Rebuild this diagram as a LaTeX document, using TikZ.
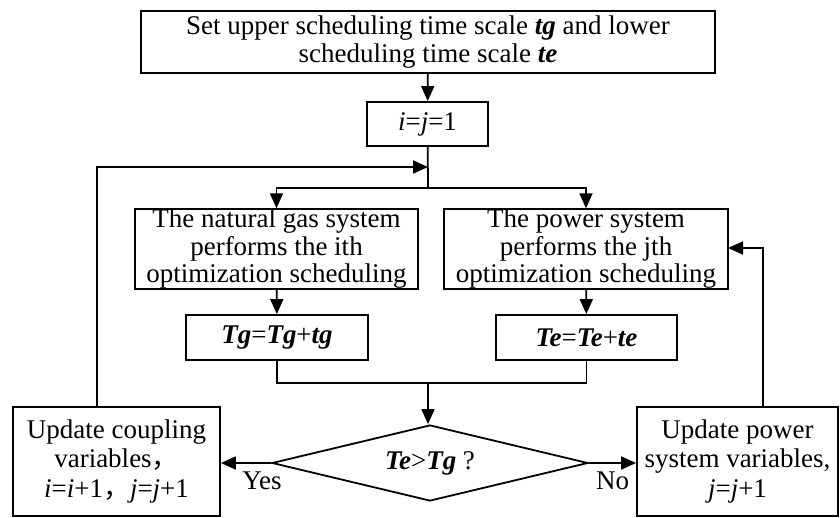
\documentclass[tikz,border=0pt]{standalone}
\usepackage{fontspec}
\setmainfont{Liberation Serif}
\newfontfamily\cjkfont{Noto Sans CJK SC}
\usetikzlibrary{arrows.meta,shapes.geometric}

\newcommand{\bi}[1]{\textbf{\textit{#1}}}
\newcommand{\fwc}{{\cjkfont ，}}

\begin{document}
\begin{tikzpicture}[x=1pt,y=-1pt,
  box/.style={draw,line width=1.8pt,inner sep=0pt,align=center,
    font=\fontsize{27}{27.5}\selectfont},
  flow/.style={line width=1.8pt,-{Triangle[length=15pt,width=13pt]}},
  link/.style={line width=1.8pt},
  lbl/.style={inner sep=0pt,anchor=base,font=\fontsize{27}{27.5}\selectfont}]
\useasboundingbox (0,0) rectangle (840,518);

% process boxes
\node[box, line width=2.3pt, minimum width=574pt, minimum height=62pt] (set) at (428,42)
  {Set upper scheduling time scale \bi{tg} and lower\\scheduling time scale \bi{te}};
\node[box, minimum width=121pt, minimum height=44pt] (init) at (427.5,124)
  {\textit{i}=\textit{j}=1};
\node[box, minimum width=283pt, minimum height=76pt] (gas) at (276.5,249)
  {The natural gas system\\performs the ith\\optimization scheduling};
\node[box, minimum width=284pt, minimum height=76pt] (power) at (586,249)
  {The power system\\performs the jth\\optimization scheduling};
\node[box, minimum width=182pt, minimum height=45pt] (tg) at (277,337.5)
  {\bi{Tg}=\bi{Tg}+\bi{tg}};
\node[box, minimum width=181pt, minimum height=45pt] (te) at (586.5,337.5)
  {\bi{Te}=\bi{Te}+\bi{te}};
\node[box, diamond, aspect=4.16, minimum width=316pt, minimum height=76pt] (dec) at (430,463)
  {\bi{Te}>\bi{Tg} ?};
\node[box, font=\fontsize{27}{29.5}\selectfont, minimum width=207pt, minimum height=109pt] (upd) at (116.5,461.5)
  {Update coupling\\variables\fwc\\\textit{i}=\textit{i}+1\fwc\textit{j}=\textit{j}+1};
\node[box, font=\fontsize{27}{29.5}\selectfont, minimum width=201pt, minimum height=109pt] (pupd) at (737.5,461.5)
  {Update power\\system variables,\\\textit{j}=\textit{j}+1};

% branch labels
\node[lbl] (yes) at (262,489) {Yes};
\node[lbl] (no) at (612.5,489) {No};

% junction points of the connectors
\coordinate (split) at (428,188);
\coordinate (loopin) at (428,167);
\coordinate (merge) at (428,383);
\coordinate (lup) at (97,407);
\coordinate (rup) at (763,407);
\coordinate (pin) at (728,248);

% connectors
\draw[flow] (set) -- (init);
\draw[link] (init) -- (split);
\draw[flow] (split) -| (gas.north);
\draw[flow] (split) -| (power.north);
\draw[flow] (gas) -- (tg);
\draw[flow] (power) -- (te);
\draw[link] (tg.south) |- (merge);
\draw[link] (te.south) |- (merge);
\draw[flow] (merge) -- (merge |- dec.north);
\draw[flow] (dec.west) -- (dec.west -| upd.east);
\draw[flow] (dec.east) -- (dec.east -| pupd.west);
\draw[flow] (lup) |- (loopin);
\draw[flow] (rup) |- (pin);
\end{tikzpicture}
\end{document}
